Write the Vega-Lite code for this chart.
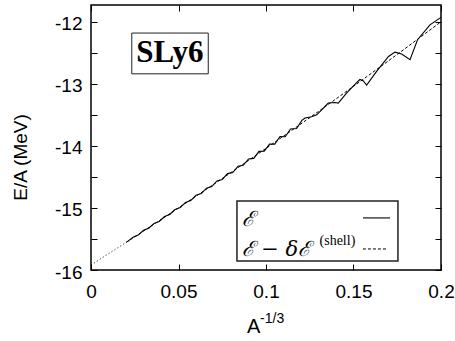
{
  "$schema": "https://vega.github.io/schema/vega-lite/v6.json",
  "width": 350,
  "height": 265,
  "autosize": {"type": "none"},
  "padding": {"left": 91, "top": 5, "right": 14, "bottom": 71},
  "background": "white",
  "config": {
    "view": {"stroke": "black", "strokeWidth": 1.5},
    "font": "Liberation Sans"
  },
  "datasets": {
    "curves": [
      {"x": 0.0, "y": -15.92, "s": "dotted", "g": "d"},
      {"x": 0.021, "y": -15.538, "s": "dotted", "g": "d"},
      {"x": 0.02, "y": -15.557, "s": "dashed", "g": "m"},
      {"x": 0.03, "y": -15.373, "s": "dashed", "g": "m"},
      {"x": 0.04, "y": -15.187, "s": "dashed", "g": "m"},
      {"x": 0.05, "y": -15.0, "s": "dashed", "g": "m"},
      {"x": 0.06, "y": -14.811, "s": "dashed", "g": "m"},
      {"x": 0.07, "y": -14.621, "s": "dashed", "g": "m"},
      {"x": 0.08, "y": -14.429, "s": "dashed", "g": "m"},
      {"x": 0.09, "y": -14.235, "s": "dashed", "g": "m"},
      {"x": 0.10, "y": -14.04, "s": "dashed", "g": "m"},
      {"x": 0.11, "y": -13.843, "s": "dashed", "g": "m"},
      {"x": 0.12, "y": -13.645, "s": "dashed", "g": "m"},
      {"x": 0.13, "y": -13.445, "s": "dashed", "g": "m"},
      {"x": 0.14, "y": -13.243, "s": "dashed", "g": "m"},
      {"x": 0.15, "y": -13.04, "s": "dashed", "g": "m"},
      {"x": 0.16, "y": -12.835, "s": "dashed", "g": "m"},
      {"x": 0.17, "y": -12.629, "s": "dashed", "g": "m"},
      {"x": 0.18, "y": -12.421, "s": "dashed", "g": "m"},
      {"x": 0.19, "y": -12.211, "s": "dashed", "g": "m"},
      {"x": 0.20, "y": -12.0, "s": "dashed", "g": "m"},
      {"x": 0.021, "y": -15.538, "s": "solid", "g": "e"},
      {"x": 0.024, "y": -15.471, "s": "solid", "g": "e"},
      {"x": 0.027, "y": -15.438, "s": "solid", "g": "e"},
      {"x": 0.030, "y": -15.361, "s": "solid", "g": "e"},
      {"x": 0.033, "y": -15.327, "s": "solid", "g": "e"},
      {"x": 0.036, "y": -15.250, "s": "solid", "g": "e"},
      {"x": 0.039, "y": -15.218, "s": "solid", "g": "e"},
      {"x": 0.042, "y": -15.138, "s": "solid", "g": "e"},
      {"x": 0.045, "y": -15.106, "s": "solid", "g": "e"},
      {"x": 0.048, "y": -15.026, "s": "solid", "g": "e"},
      {"x": 0.051, "y": -14.993, "s": "solid", "g": "e"},
      {"x": 0.054, "y": -14.911, "s": "solid", "g": "e"},
      {"x": 0.057, "y": -14.882, "s": "solid", "g": "e"},
      {"x": 0.060, "y": -14.796, "s": "solid", "g": "e"},
      {"x": 0.063, "y": -14.769, "s": "solid", "g": "e"},
      {"x": 0.066, "y": -14.681, "s": "solid", "g": "e"},
      {"x": 0.069, "y": -14.656, "s": "solid", "g": "e"},
      {"x": 0.072, "y": -14.565, "s": "solid", "g": "e"},
      {"x": 0.075, "y": -14.543, "s": "solid", "g": "e"},
      {"x": 0.078, "y": -14.447, "s": "solid", "g": "e"},
      {"x": 0.081, "y": -14.429, "s": "solid", "g": "e"},
      {"x": 0.084, "y": -14.329, "s": "solid", "g": "e"},
      {"x": 0.087, "y": -14.313, "s": "solid", "g": "e"},
      {"x": 0.090, "y": -14.210, "s": "solid", "g": "e"},
      {"x": 0.093, "y": -14.202, "s": "solid", "g": "e"},
      {"x": 0.096, "y": -14.088, "s": "solid", "g": "e"},
      {"x": 0.099, "y": -14.085, "s": "solid", "g": "e"},
      {"x": 0.102, "y": -13.971, "s": "solid", "g": "e"},
      {"x": 0.105, "y": -13.972, "s": "solid", "g": "e"},
      {"x": 0.108, "y": -13.848, "s": "solid", "g": "e"},
      {"x": 0.111, "y": -13.853, "s": "solid", "g": "e"},
      {"x": 0.114, "y": -13.729, "s": "solid", "g": "e"},
      {"x": 0.1175, "y": -13.72, "s": "solid", "g": "e"},
      {"x": 0.1205, "y": -13.59, "s": "solid", "g": "e"},
      {"x": 0.1223, "y": -13.55, "s": "solid", "g": "e"},
      {"x": 0.126, "y": -13.53, "s": "solid", "g": "e"},
      {"x": 0.129, "y": -13.50, "s": "solid", "g": "e"},
      {"x": 0.1318, "y": -13.42, "s": "solid", "g": "e"},
      {"x": 0.1356, "y": -13.31, "s": "solid", "g": "e"},
      {"x": 0.1394, "y": -13.30, "s": "solid", "g": "e"},
      {"x": 0.1413, "y": -13.31, "s": "solid", "g": "e"},
      {"x": 0.146, "y": -13.15, "s": "solid", "g": "e"},
      {"x": 0.1518, "y": -12.98, "s": "solid", "g": "e"},
      {"x": 0.1537, "y": -12.93, "s": "solid", "g": "e"},
      {"x": 0.1555, "y": -12.95, "s": "solid", "g": "e"},
      {"x": 0.1575, "y": -13.02, "s": "solid", "g": "e"},
      {"x": 0.1632, "y": -12.80, "s": "solid", "g": "e"},
      {"x": 0.170, "y": -12.56, "s": "solid", "g": "e"},
      {"x": 0.1737, "y": -12.49, "s": "solid", "g": "e"},
      {"x": 0.1775, "y": -12.52, "s": "solid", "g": "e"},
      {"x": 0.1823, "y": -12.61, "s": "solid", "g": "e"},
      {"x": 0.1866, "y": -12.29, "s": "solid", "g": "e"},
      {"x": 0.1937, "y": -12.05, "s": "solid", "g": "e"},
      {"x": 0.200, "y": -11.93, "s": "solid", "g": "e"},
      {"x": 0.1554, "y": -15.161, "s": "solid", "g": "legend-e"},
      {"x": 0.1709, "y": -15.161, "s": "solid", "g": "legend-e"},
      {"x": 0.1554, "y": -15.661, "s": "dashed", "g": "legend-m"},
      {"x": 0.1697, "y": -15.661, "s": "dashed", "g": "legend-m"}
    ],
    "boxes": [
      {"x": 0.0233, "x2": 0.067, "y": -12.182, "y2": -12.839, "k": "sly"},
      {"x": 0.0834, "x2": 0.1754, "y": -14.887, "y2": -15.855, "k": "legend"}
    ],
    "labels": [
      {"x": 0.0451, "y": -12.511, "t": "SLy6", "k": "sly"},
      {"x": 0.0861, "y": -15.194, "t": "ℰ", "k": "leg"},
      {"x": 0.0861, "y": -15.677, "t": "ℰ − δℰ", "k": "leg"},
      {"x": 0.1306, "y": -15.54, "t": "(shell)", "k": "sup"},
      {"x": 0.0891, "y": -17.016, "t": "A", "k": "xt"},
      {"x": 0.0966, "y": -16.855, "t": "-1/3", "k": "xs"}
    ]
  },
  "resolve": {"axis": {"x": "independent", "y": "independent"}},
  "layer": [
    {
      "encoding": {
        "x": {
          "field": "x", "type": "quantitative",
          "scale": {"domain": [0, 0.2], "nice": false, "zero": false},
          "axis": {
            "orient": "bottom", "values": [0, 0.05, 0.1, 0.15, 0.2], "format": "~g",
            "tickSize": -6, "tickColor": "black", "tickWidth": 1,
            "labelPadding": 18, "labelFontSize": 19, "labelFont": "Liberation Sans",
            "labelColor": "black", "labelFlush": false, "domain": false, "grid": false, "title": null
          }
        },
        "y": {
          "field": "y", "type": "quantitative",
          "scale": {"domain": [-16, -11.73], "nice": false, "zero": false},
          "axis": {
            "orient": "left",
            "values": [-16, -15.5, -15, -14.5, -14, -13.5, -13, -12.5, -12],
            "labelExpr": "datum.value % 1 == 0 ? '' + datum.value : ''",
            "tickSize": -6, "tickColor": "black", "tickWidth": 1,
            "labelPadding": 15, "labelFontSize": 19, "labelFont": "Liberation Sans",
            "labelColor": "black", "labelFlush": false, "labelOffset": 2,
            "domain": false, "grid": false,
            "title": "E/A (MeV)", "titleFont": "Liberation Sans", "titleFontSize": 19,
            "titleFontWeight": "normal", "titleColor": "black",
            "titleX": -71, "titleY": 152, "titleAngle": -90,
            "titleAlign": "center", "titleBaseline": "middle"
          }
        }
      },
      "layer": [
        {
          "data": {"name": "curves"},
          "transform": [{"filter": "datum.s == 'dotted'"}],
          "mark": {"type": "line", "color": "black", "strokeWidth": 1, "strokeDash": [1, 2.5]},
          "encoding": {"detail": {"field": "g"}}
        },
        {
          "data": {"name": "curves"},
          "transform": [{"filter": "datum.s == 'dashed'"}],
          "mark": {"type": "line", "color": "black", "strokeWidth": 1, "strokeDash": [3, 2]},
          "encoding": {"detail": {"field": "g"}}
        },
        {
          "data": {"name": "curves"},
          "transform": [{"filter": "datum.s == 'solid'"}],
          "mark": {"type": "line", "color": "black", "strokeWidth": 1.1},
          "encoding": {"detail": {"field": "g"}}
        },
        {
          "data": {"name": "boxes"},
          "transform": [{"filter": "datum.k == 'sly'"}],
          "mark": {"type": "rect", "fill": "white", "stroke": "#222", "strokeWidth": 1},
          "encoding": {"x2": {"field": "x2"}, "y2": {"field": "y2"}}
        },
        {
          "data": {"name": "boxes"},
          "transform": [{"filter": "datum.k == 'legend'"}],
          "mark": {"type": "rect", "fill": "none", "stroke": "#222", "strokeWidth": 1.5},
          "encoding": {"x2": {"field": "x2"}, "y2": {"field": "y2"}}
        },
        {
          "data": {"name": "labels"},
          "transform": [{"filter": "datum.k == 'sly'"}],
          "mark": {"type": "text", "font": "Liberation Serif", "fontWeight": "bold", "fontSize": 31, "align": "center", "baseline": "middle", "color": "black"},
          "encoding": {"text": {"field": "t"}}
        },
        {
          "data": {"name": "labels"},
          "transform": [{"filter": "datum.k == 'leg'"}],
          "mark": {"type": "text", "font": "DejaVu Serif", "fontStyle": "italic", "fontSize": 21, "align": "left", "baseline": "middle", "color": "black"},
          "encoding": {"text": {"field": "t"}}
        },
        {
          "data": {"name": "labels"},
          "transform": [{"filter": "datum.k == 'sup'"}],
          "mark": {"type": "text", "font": "Liberation Serif", "fontSize": 14, "align": "left", "baseline": "middle", "color": "black"},
          "encoding": {"text": {"field": "t"}}
        },
        {
          "data": {"name": "labels"},
          "transform": [{"filter": "datum.k == 'xt'"}],
          "mark": {"type": "text", "font": "Liberation Sans", "fontSize": 20, "align": "left", "baseline": "alphabetic", "color": "black"},
          "encoding": {"text": {"field": "t"}}
        },
        {
          "data": {"name": "labels"},
          "transform": [{"filter": "datum.k == 'xs'"}],
          "mark": {"type": "text", "font": "Liberation Sans", "fontSize": 14, "align": "left", "baseline": "alphabetic", "color": "black"},
          "encoding": {"text": {"field": "t"}}
        }
      ]
    },
    {
      "data": {"name": "curves"},
      "mark": {"type": "point", "opacity": 0},
      "encoding": {
        "x": {
          "field": "x", "type": "quantitative",
          "scale": {"domain": [0, 0.2], "nice": false, "zero": false},
          "axis": {"orient": "top", "values": [0, 0.05, 0.1, 0.15, 0.2], "labels": false, "tickSize": -6, "tickColor": "black", "domain": false, "grid": false, "title": null}
        },
        "y": {
          "field": "y", "type": "quantitative",
          "scale": {"domain": [-16, -11.73], "nice": false, "zero": false},
          "axis": {"orient": "right", "values": [-16, -15.5, -15, -14.5, -14, -13.5, -13, -12.5, -12], "labels": false, "tickSize": -6, "tickColor": "black", "domain": false, "grid": false, "title": null}
        }
      }
    }
  ]
}
